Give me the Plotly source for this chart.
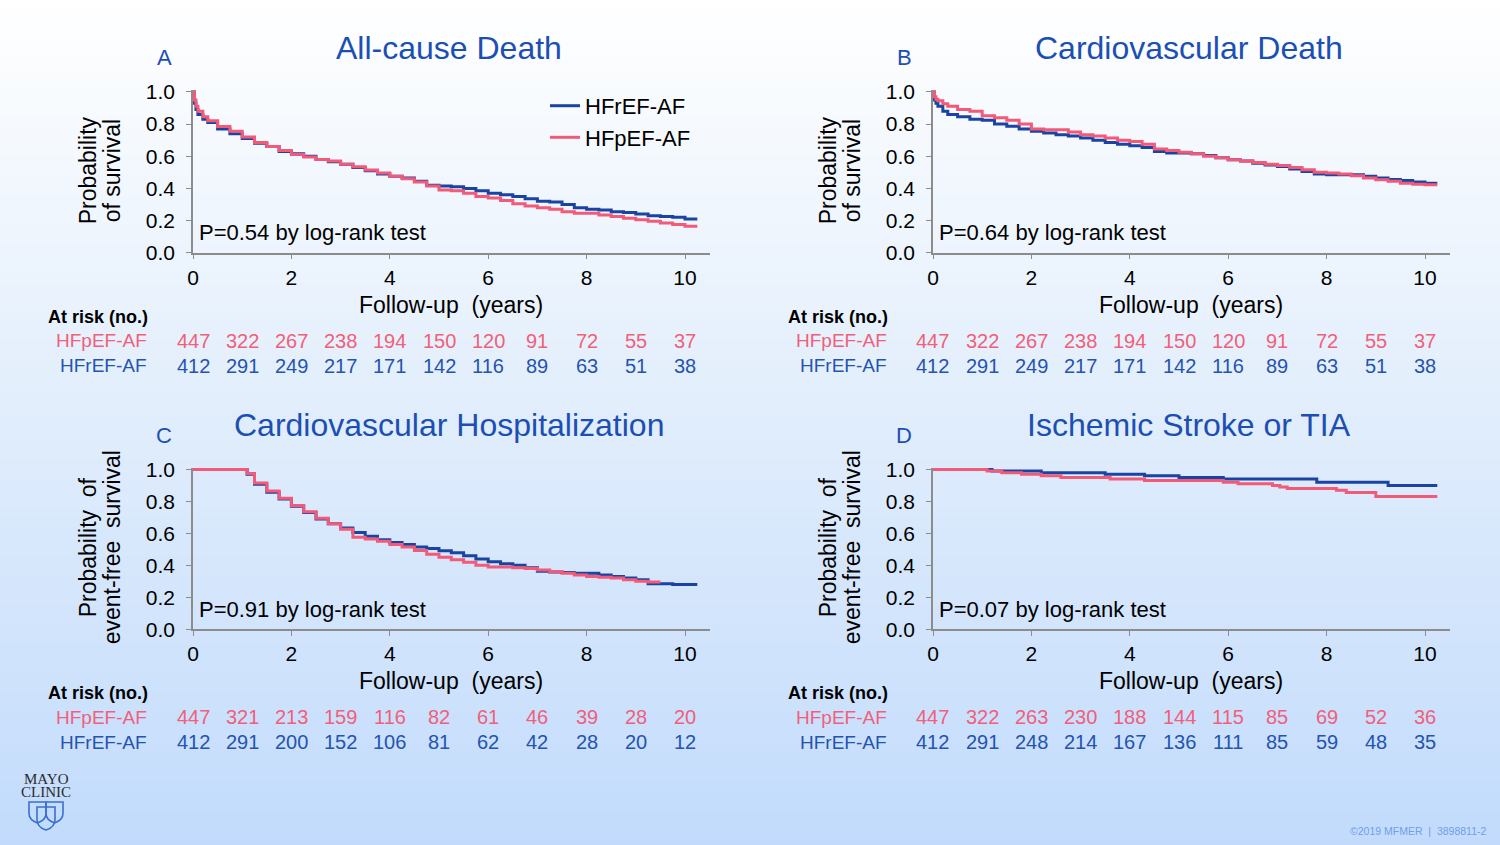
import plotly.graph_objects as go

W, H = 1500, 845

BLUE = "#1a44a4"
PINK = "#f25a78"
TITLE_BLUE = "#1c4fb4"
RISK_PINK = "#f0607a"
RISK_BLUE = "#2454b0"
FONT = "Liberation Sans, Arial, sans-serif"

# ---- données ----
years = [0, 1, 2, 3, 4, 5, 6, 7, 8, 9, 10]

# A : décès toutes causes
a_time = [0, 0.03, 0.06, 0.1, 0.2, 0.3, 0.5, 0.75,
          1.0, 1.25, 1.5, 1.75, 2.0, 2.25, 2.5, 2.75, 3.0, 3.25, 3.5, 3.75,
          4.0, 4.25, 4.5, 4.75, 5.0, 5.25, 5.5, 5.75, 6.0, 6.25, 6.5, 6.75,
          7.0, 7.25, 7.5, 7.75, 8.0, 8.25, 8.5, 8.75, 9.0, 9.25, 9.5, 9.75,
          10.0, 10.25]
a_ref = [1.00, 0.93, 0.89, 0.86, 0.83, 0.81, 0.77, 0.74,
         0.71, 0.68, 0.66, 0.63, 0.615, 0.60, 0.58, 0.565, 0.55, 0.53, 0.51, 0.49,
         0.475, 0.465, 0.445, 0.42, 0.415, 0.41, 0.40, 0.385, 0.37, 0.36, 0.35, 0.335,
         0.32, 0.315, 0.30, 0.28, 0.27, 0.265, 0.255, 0.25, 0.24, 0.23, 0.225, 0.22,
         0.21, 0.21]
a_pef = [1.00, 0.95, 0.91, 0.88, 0.845, 0.82, 0.785, 0.755,
         0.72, 0.685, 0.66, 0.635, 0.61, 0.595, 0.58, 0.57, 0.55, 0.535, 0.515, 0.495,
         0.475, 0.46, 0.44, 0.415, 0.39, 0.385, 0.37, 0.35, 0.34, 0.325, 0.305, 0.29,
         0.28, 0.27, 0.255, 0.245, 0.245, 0.235, 0.225, 0.215, 0.205, 0.195, 0.185, 0.175,
         0.165, 0.165]
a_risk_pef = [447, 322, 267, 238, 194, 150, 120, 91, 72, 55, 37]
a_risk_ref = [412, 291, 249, 217, 171, 142, 116, 89, 63, 51, 38]

# B : décès cardiovasculaire
b_time = a_time
b_ref = [1.00, 0.95, 0.93, 0.91, 0.88, 0.86, 0.845, 0.83,
         0.823, 0.80, 0.786, 0.77, 0.755, 0.745, 0.734, 0.725, 0.713, 0.70, 0.686, 0.675,
         0.665, 0.655, 0.63, 0.62, 0.62, 0.615, 0.605, 0.59, 0.578, 0.57, 0.557, 0.545,
         0.536, 0.52, 0.505, 0.49, 0.484, 0.484, 0.484, 0.475, 0.464, 0.455, 0.449, 0.44,
         0.432, 0.432]
b_pef = [1.00, 0.97, 0.955, 0.945, 0.927, 0.91, 0.89, 0.88,
         0.852, 0.84, 0.823, 0.80, 0.77, 0.765, 0.765, 0.75, 0.734, 0.725, 0.713, 0.70,
         0.692, 0.675, 0.645, 0.635, 0.624, 0.615, 0.60, 0.59, 0.578, 0.57, 0.561, 0.55,
         0.543, 0.53, 0.516, 0.50, 0.495, 0.49, 0.478, 0.465, 0.453, 0.445, 0.432, 0.425,
         0.422, 0.422]
b_risk_pef = [447, 322, 267, 238, 194, 150, 120, 91, 72, 55, 37]
b_risk_ref = [412, 291, 249, 217, 171, 142, 116, 89, 63, 51, 38]

# C : hospitalisation cardiovasculaire
c_time_ref = [0, 1.0, 1.1, 1.25, 1.5, 1.75, 2.0, 2.25, 2.5, 2.75, 3.0, 3.25, 3.5, 3.75,
              4.0, 4.25, 4.5, 4.75, 5.0, 5.25, 5.5, 5.75, 6.0, 6.25, 6.5, 6.75,
              7.0, 7.25, 7.5, 7.75, 8.0, 8.25, 8.5, 8.75, 9.0, 9.25, 9.5, 9.75,
              10.0, 10.25]
c_ref = [1.0, 1.0, 0.97, 0.908, 0.857, 0.815, 0.77, 0.73, 0.69, 0.66, 0.634, 0.605, 0.582, 0.56,
         0.543, 0.53, 0.515, 0.505, 0.491, 0.478, 0.46, 0.44, 0.422, 0.41, 0.40, 0.385,
         0.363, 0.358, 0.355, 0.35, 0.35, 0.34, 0.33, 0.32, 0.31, 0.285, 0.285, 0.28,
         0.28, 0.28]
c_time_pef = [0, 1.0, 1.1, 1.25, 1.5, 1.75, 2.0, 2.25, 2.5, 2.75, 3.0, 3.25, 3.5, 3.75,
              4.0, 4.25, 4.5, 4.75, 5.0, 5.25, 5.5, 5.75, 6.0, 6.25, 6.5, 6.75,
              7.0, 7.25, 7.5, 7.75, 8.0, 8.25, 8.5, 8.75, 9.0, 9.25, 9.5]
c_pef = [1.0, 1.0, 0.975, 0.915, 0.865, 0.82, 0.775, 0.735, 0.695, 0.66, 0.625, 0.575, 0.565, 0.55,
         0.53, 0.515, 0.493, 0.47, 0.45, 0.435, 0.42, 0.40, 0.39, 0.39, 0.385, 0.38,
         0.37, 0.36, 0.35, 0.34, 0.33, 0.325, 0.32, 0.31, 0.30, 0.295, 0.295]
c_risk_pef = [447, 321, 213, 159, 116, 82, 61, 46, 39, 28, 20]
c_risk_ref = [412, 291, 200, 152, 106, 81, 62, 42, 28, 20, 12]

# D : AVC ischémique ou AIT
d_time_ref = [0, 1.2, 2.2, 3.5, 4.3, 5.0, 5.9, 7.8, 9.25, 10.25]
d_ref = [1.0, 0.99, 0.98, 0.97, 0.96, 0.95, 0.94, 0.92, 0.90, 0.90]
d_time_pef = [0, 1.1, 1.4, 1.8, 2.2, 2.6, 3.6, 4.3, 5.9, 6.2, 6.9, 7.05, 7.2, 8.2, 8.4, 9.0, 10.25]
d_pef = [1.0, 0.99, 0.98, 0.97, 0.96, 0.95, 0.94, 0.93, 0.92, 0.91, 0.90, 0.89, 0.88, 0.87,
         0.855, 0.83, 0.83]
d_risk_pef = [447, 322, 263, 230, 188, 144, 115, 85, 69, 52, 36]
d_risk_ref = [412, 291, 248, 214, 167, 136, 111, 85, 59, 48, 35]

# correction du cadrage observé à la capture (la page est légèrement réduite/décalée)
SX, OX = 1494 / 1500, 6
SY, OY = 825 / 845, 10


def px(x):
    return ((x - OX) / SX) / W


def py(y):
    return 1 - ((y - OY) / SY) / H


def note(text, x, y, size, color, xanchor="center", angle=0, **kw):
    return dict(text=text, x=px(x), y=py(y), xref="paper", yref="paper",
                xanchor=xanchor, yanchor="middle", showarrow=False, textangle=angle,
                font=dict(size=size, color=color, family=kw.pop("family", FONT)), **kw)


# panneaux : (lettre, titre, titre axe y (2 lignes), p-valeur, x0 px, y haut px, y bas px, courbes, effectifs)
panels = [
    ("A", "All-cause Death", ("Probability", "of survival"), "P=0.54 by log-rank test",
     193, 92, 253, (a_time, a_ref, a_time, a_pef), (a_risk_pef, a_risk_ref)),
    ("B", "Cardiovascular Death", ("Probability", "of survival"), "P=0.64 by log-rank test",
     933, 92, 253, (b_time, b_ref, b_time, b_pef), (b_risk_pef, b_risk_ref)),
    ("C", "Cardiovascular Hospitalization", ("Probability  of", "event-free  survival"),
     "P=0.91 by log-rank test",
     193, 470, 630, (c_time_ref, c_ref, c_time_pef, c_pef), (c_risk_pef, c_risk_ref)),
    ("D", "Ischemic Stroke or TIA", ("Probability  of", "event-free  survival"),
     "P=0.07 by log-rank test",
     933, 470, 630, (d_time_ref, d_ref, d_time_pef, d_pef), (d_risk_pef, d_risk_ref)),
]

fig = go.Figure()
annotations = []
shapes = []

# fond en dégradé (blanc -> bleu clair)
stops = [(0, (255, 255, 255)), (400, (226, 238, 252)), (845, (194, 219, 252))]
nb = 90
for i in range(nb):
    y0 = -20 + 880 * i / nb
    y1 = -20 + 880 * (i + 1) / nb
    ym = min(max((y0 + y1) / 2, 0), 845)
    for (sa, ca), (sb, cb) in zip(stops[:-1], stops[1:]):
        if sa <= ym <= sb:
            f = (ym - sa) / (sb - sa)
            c = tuple(round(ca[k] + (cb[k] - ca[k]) * f) for k in range(3))
    shapes.append(dict(type="rect", xref="paper", yref="paper", layer="below",
                       x0=-0.01, x1=1.01, y0=py(y1 + 0.5), y1=py(y0), line=dict(width=0),
                       fillcolor="rgb(%d,%d,%d)" % c))

xspan = 10.5
for i, (letter, title, ytitle, ptext, x0, ytop, ybot, curves, risks) in enumerate(panels):
    n = i + 1
    xa = "x" if n == 1 else "x%d" % n
    ya = "y" if n == 1 else "y%d" % n
    ppy = (ybot - ytop)  # px par unité
    x_end = x0 + 49.2 * xspan
    ymax = 1.012
    fig.update_layout(**{
        ("xaxis" if n == 1 else "xaxis%d" % n): dict(
            domain=[px(x0), px(x_end)], range=[0, xspan], anchor=ya,
            tickvals=[0, 2, 4, 6, 8, 10], showline=True, linecolor="#8c8c8c", linewidth=1.5,
            ticks="outside", ticklen=5, tickcolor="#8c8c8c", showgrid=False, zeroline=False,
            tickfont=dict(size=21, color="black", family=FONT), ticklabelstandoff=0),
        ("yaxis" if n == 1 else "yaxis%d" % n): dict(
            domain=[py(ybot), py(ybot - ppy * ymax)], range=[0, ymax], anchor=xa,
            tickvals=[0, 0.2, 0.4, 0.6, 0.8, 1.0], tickformat=".1f",
            showline=True, linecolor="#8c8c8c", linewidth=1.5,
            ticks="outside", ticklen=5, tickcolor="#8c8c8c", showgrid=False, zeroline=False,
            tickfont=dict(size=21, color="black", family=FONT), ticklabelstandoff=7),
    })

    t_ref, s_ref, t_pef, s_pef = curves
    fig.add_trace(go.Scatter(x=t_ref, y=s_ref, mode="lines", line_shape="hv",
                             line=dict(color=BLUE, width=3), name="HFrEF-AF",
                             xaxis=xa, yaxis=ya, showlegend=(n == 1), legendrank=1))
    fig.add_trace(go.Scatter(x=t_pef, y=s_pef, mode="lines", line_shape="hv",
                             line=dict(color=PINK, width=3), name="HFpEF-AF",
                             xaxis=xa, yaxis=ya, showlegend=(n == 1), legendrank=2))

    cx = (x0 + x_end) / 2
    annotations.append(note(title, cx - 2, ytop - 44, 32, TITLE_BLUE))
    annotations.append(note(letter, x0 - 29, ytop - 34, 22, TITLE_BLUE))
    annotations.append(note(ytitle[0], x0 - 105, (ytop + ybot) / 2 - 2, 23, "black", angle=-90))
    annotations.append(note(ytitle[1], x0 - 81, (ytop + ybot) / 2 - 2, 23, "black", angle=-90))
    annotations.append(note("Follow-up  (years)", cx, ybot + 52, 23, "black"))
    annotations.append(note(ptext, x0 + 4, ybot - 20, 22, "black", xanchor="left"))
    # tableau des effectifs à risque
    annotations.append(note("<b>At risk (no.)</b>", x0 - 147, ybot + 64, 18, "black", xanchor="left"))
    for label, vals, col, dy in (("HFpEF-AF", risks[0], RISK_PINK, 88),
                                 ("HFrEF-AF", risks[1], RISK_BLUE, 113)):
        annotations.append(note(label, x0 - 44, ybot + dy, 19, col, xanchor="right"))
        for yr, v in zip(years, vals):
            annotations.append(dict(text=str(v), x=yr, xref=xa, y=py(ybot + dy), yref="paper",
                                    xanchor="center", yanchor="middle", showarrow=False,
                                    font=dict(size=20, color=col, family=FONT)))

# logo Mayo Clinic
annotations.append(note("MAYO", 46, 780, 15, "#2b2b2b", family="Liberation Serif"))
annotations.append(note("CLINIC", 46, 793, 15, "#2b2b2b", family="Liberation Serif"))


def shield(xl, xr, yt, yb):
    xm = (xl + xr) / 2
    ymid = yt + (yb - yt) * 0.55
    return ("M %f,%f L %f,%f L %f,%f Q %f,%f %f,%f Q %f,%f %f,%f Z" % (
        px(xl), py(yt), px(xr), py(yt), px(xr), py(ymid),
        px(xr), py(yb - 3), px(xm), py(yb),
        px(xl), py(yb - 3), px(xl), py(ymid)))


for xl, xr, yt, yb in ((29, 46, 803, 824), (46, 63, 803, 824), (37, 55, 808, 831)):
    shapes.append(dict(type="path", xref="paper", yref="paper", path=shield(xl, xr, yt, yb),
                       line=dict(color="#3a6fd0", width=1.6), fillcolor="rgba(0,0,0,0)"))

annotations.append(note("©2019 MFMER  |  3898811-2", 1488, 832, 10.5, "#6f9fe8", xanchor="right"))

fig.update_layout(
    width=W, height=H,
    margin=dict(l=0, r=0, t=0, b=0),
    paper_bgcolor="rgba(0,0,0,0)", plot_bgcolor="rgba(0,0,0,0)",
    font=dict(family=FONT),
    annotations=annotations, shapes=shapes,
    showlegend=True,
    legend=dict(x=px(545), y=py(85), xanchor="left", yanchor="top",
                bgcolor="rgba(0,0,0,0)", font=dict(size=22, color="black", family=FONT),
                tracegroupgap=0),
)

page_bg = ("document.body.style.margin='0px';"
           "document.documentElement.style.background="
           "'linear-gradient(rgb(255,255,255), rgb(226,238,252) 47%, rgb(194,219,252)) no-repeat';"
           "document.documentElement.style.minHeight='100%';")
fig.write_html("out.html", post_script=page_bg, config={"displayModeBar": False})
